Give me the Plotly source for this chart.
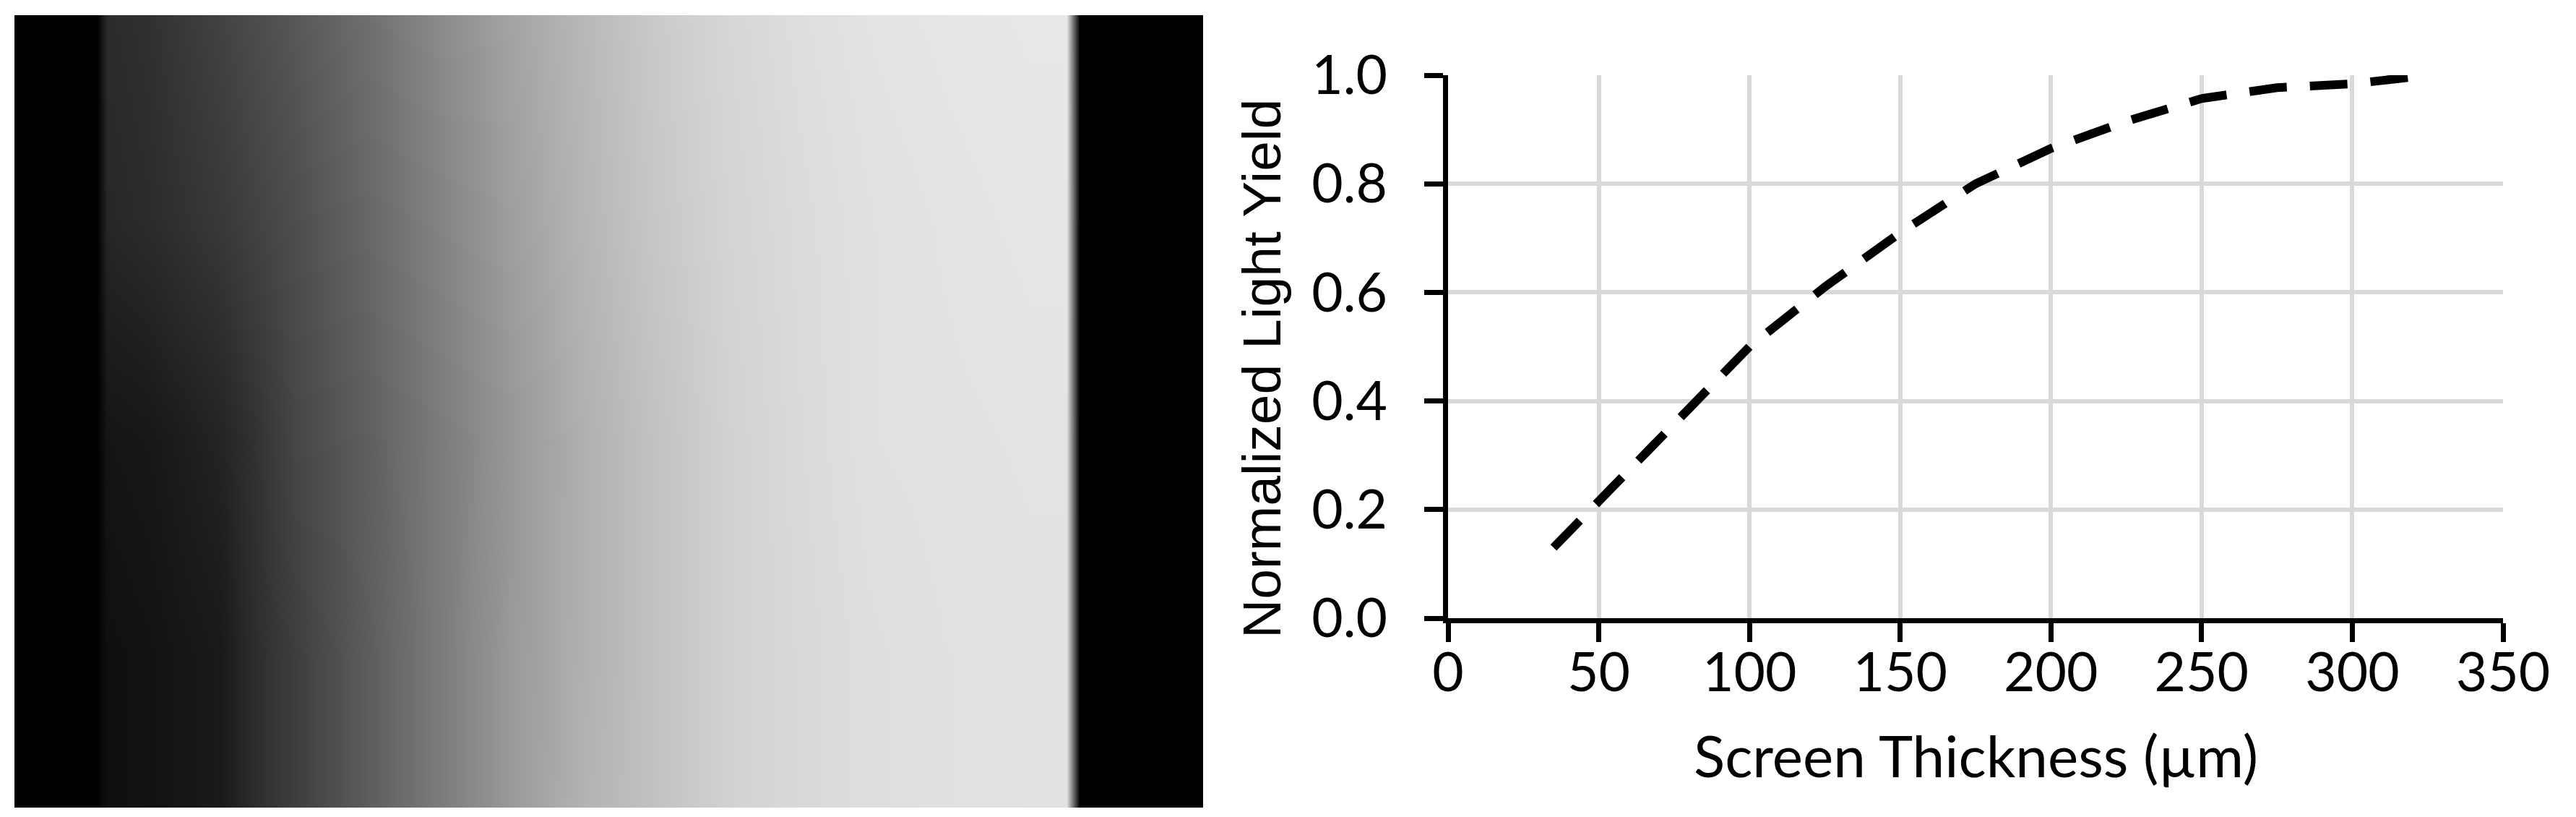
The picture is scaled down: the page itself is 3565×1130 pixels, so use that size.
import plotly.graph_objects as go

# ---------------- data ----------------
# Left panel: grey-level image of the screen (column / row positions in picture pixels)
img_cols = [12, 126, 140, 198, 298, 348, 398, 498, 598, 698, 798, 898, 998,
            1098, 1198, 1298, 1418, 1468, 1486, 1657]
img_rows = [13, 300, 600, 900, 1109]
img_row_top = [0, 0, 0.17, 0.19, 0.26, 0.30, 0.34, 0.43, 0.54, 0.64, 0.72, 0.79, 0.84,
               0.87, 0.89, 0.90, 0.91, 0.91, 0, 0]
img_row_upper = [0, 0, 0.15, 0.17, 0.22, 0.26, 0.30, 0.40, 0.51, 0.62, 0.71, 0.78, 0.83,
                 0.86, 0.88, 0.89, 0.90, 0.90, 0, 0]
img_row_mid = [0, 0, 0.08, 0.09, 0.14, 0.20, 0.27, 0.37, 0.48, 0.59, 0.69, 0.76, 0.82,
               0.855, 0.88, 0.885, 0.89, 0.89, 0, 0]
img_row_lower = [0, 0, 0.06, 0.07, 0.10, 0.18, 0.24, 0.36, 0.48, 0.60, 0.69, 0.76, 0.82,
                 0.85, 0.87, 0.88, 0.885, 0.885, 0, 0]
img_row_bottom = [0, 0, 0.06, 0.07, 0.10, 0.18, 0.24, 0.36, 0.48, 0.60, 0.70, 0.76, 0.82,
                  0.85, 0.87, 0.88, 0.885, 0.885, 0, 0]

# Right panel: normalized light yield vs screen thickness
thickness_um = [35, 50, 75, 100, 125, 150, 175, 200, 225, 250, 275, 300, 325]
light_yield = [0.13, 0.215, 0.36, 0.50, 0.61, 0.71, 0.80, 0.865, 0.915, 0.957, 0.977, 0.984, 1.0]

x_ticks = [0, 50, 100, 150, 200, 250, 300, 350]
y_ticks = [0.0, 0.2, 0.4, 0.6, 0.8, 1.0]

x_title = "Screen Thickness (µm)"
y_title = "Normalized Light Yield"

# ---------------- figure ----------------
W, H = 3565, 1130
PX0, PX1 = 1996, 3456      # plot area, picture pixels
PY0, PY1 = 96, 847

fig = go.Figure()

fig.add_trace(go.Heatmap(
    x=img_cols, y=img_rows,
    z=[img_row_top, img_row_upper, img_row_mid, img_row_lower, img_row_bottom],
    colorscale=[[0, "#000000"], [1, "#ffffff"]], zmin=0, zmax=1,
    zsmooth="best", showscale=False, hoverinfo="skip",
    xaxis="x", yaxis="y",
))

fig.add_trace(go.Scatter(
    x=thickness_um, y=light_yield, mode="lines",
    line=dict(color="#000000", width=12, dash="52px,32px"),
    xaxis="x2", yaxis="y2", showlegend=False,
))

tick_font = dict(family="Lato, Liberation Sans, sans-serif", size=75, color="#000000")

fig.update_layout(
    template="none",
    width=W, height=H,
    autosize=False,
    margin=dict(l=0, r=0, t=0, b=0, pad=0, autoexpand=False),
    paper_bgcolor="#ffffff", plot_bgcolor="#ffffff",
    showlegend=False,
    xaxis=dict(domain=[img_cols[0] / W, img_cols[-1] / W],
               range=[img_cols[0], img_cols[-1]], visible=False,
               fixedrange=True, automargin=False),
    yaxis=dict(domain=[1 - img_rows[-1] / H, 1 - img_rows[0] / H],
               range=[img_rows[-1], img_rows[0]], visible=False,
               fixedrange=True, automargin=False),
    xaxis2=dict(
        domain=[PX0 / W, PX1 / W], anchor="y2", range=[0, 350],
        tickmode="array", tickvals=x_ticks, ticktext=[str(v) for v in x_ticks],
        showline=True, linecolor="#000000", linewidth=7,
        ticks="outside", ticklen=26, tickwidth=7, tickcolor="#000000",
        showgrid=True, gridcolor="#D9D9D9", gridwidth=6, zeroline=False,
        tickfont=tick_font, ticklabelstandoff=-22, automargin=False,
    ),
    yaxis2=dict(
        domain=[1 - PY1 / H, 1 - PY0 / H], anchor="x2", range=[0, 1],
        tickmode="array", tickvals=y_ticks, ticktext=[f"{v:.1f}" for v in y_ticks],
        showline=True, linecolor="#000000", linewidth=7,
        ticks="outside", ticklen=26, tickwidth=7, tickcolor="#000000",
        showgrid=True, gridcolor="#D9D9D9", gridwidth=6, zeroline=False,
        tickfont=tick_font, ticklabelstandoff=36, automargin=False,
    ),
    annotations=[
        dict(text=x_title, xref="paper", yref="paper",
             x=(PX0 + PX1) / 2 / W, y=1 - 1036 / H,
             xanchor="center", yanchor="middle", showarrow=False,
             font=dict(family="Lato, Liberation Sans, sans-serif", size=80,
                       color="#000000")),
        dict(text=y_title, xref="paper", yref="paper",
             x=1738 / W, y=1 - 502 / H, textangle=-90,
             xanchor="center", yanchor="middle", showarrow=False,
             font=dict(family="Liberation Sans, Arial, sans-serif", size=75,
                       color="#000000")),
    ],
)

fig.write_html("out.html")
